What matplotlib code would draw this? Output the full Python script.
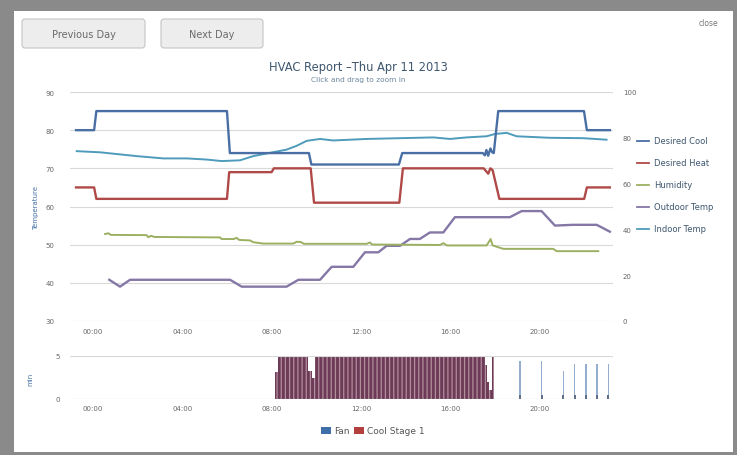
import matplotlib
matplotlib.use("Agg")
import matplotlib.pyplot as plt
from matplotlib.patches import FancyBboxPatch, Rectangle

# Series data (x = hour of day)
cool_hours = [-0.76, 0.05, 0.15, 6.0, 6.13, 9.67, 9.78, 13.7, 13.85, 17.46, 17.55, 17.62, 17.7,
              17.8, 17.88, 17.95, 18.15, 21.99, 22.12, 23.15]
cool_vals = [80, 80, 85, 85, 74, 74, 71, 71, 74, 74, 73.4, 74.8, 73.3, 75.2, 74.2, 74, 85, 85, 80, 80]

heat_hours = [-0.76, 0.05, 0.15, 6.0, 6.1, 8.0, 8.1, 9.75, 9.9, 13.72, 13.88, 17.5, 17.7, 17.8,
              17.9, 18.2, 22.0, 22.12, 23.15]
heat_vals = [65, 65, 62, 62, 69, 69, 70, 70, 61, 61, 70, 70, 68.6, 70, 69.5, 62, 62, 65, 65]

hum_hours = [0.54, 0.69, 0.8, 2.4, 2.48, 2.6, 2.75, 5.69, 5.76, 6.3, 6.43, 6.55, 7.03, 7.18, 7.63,
             8.97, 9.12, 9.3, 9.45, 12.26, 12.4, 12.5, 15.54, 15.69, 15.85, 17.63, 17.81, 17.9,
             18.38, 20.61, 20.77, 22.63]
hum_vals = [38.0, 38.3, 37.6, 37.5, 36.6, 37.2, 36.7, 36.5, 35.8, 35.8, 36.3, 35.4, 35.2, 34.4, 33.8,
            33.8, 34.6, 34.5, 33.7, 33.7, 34.3, 33.4, 33.2, 34.0, 33.0, 33.0, 35.8, 33.0,
            31.5, 31.5, 30.5, 30.5]

out_hours = [0.73, 1.21, 1.66, 6.14, 6.66, 8.67, 9.2, 10.17, 10.69, 11.66, 12.18, 12.78, 13.15, 13.75,
             14.2, 14.64, 15.09, 15.69, 16.21, 18.67, 19.2, 20.09, 20.69, 21.5, 22.56, 23.15]
out_vals = [40.8, 39.0, 40.8, 40.8, 39.0, 39.0, 40.8, 40.8, 44.2, 44.2, 48.0, 48.0, 49.7, 49.7,
            51.5, 51.5, 53.2, 53.2, 57.2, 57.2, 58.8, 58.8, 55.0, 55.2, 55.2, 53.4]

in_hours = [-0.73, 0.31, 1.96, 3.15, 4.2, 5.09, 5.76, 6.58, 7.18, 7.78, 8.67, 9.12, 9.57, 10.17,
            10.76, 12.26, 13.75, 15.24, 15.99, 16.73, 17.63, 18.0, 18.53, 18.97, 20.47, 21.96, 23.0]
in_vals = [74.5, 74.2, 73.2, 72.6, 72.6, 72.3, 71.9, 72.1, 73.2, 73.9, 74.9, 75.9, 77.2, 77.7,
           77.3, 77.7, 77.9, 78.1, 77.7, 78.1, 78.4, 79.0, 79.3, 78.4, 78.0, 77.9, 77.5]

# runtime (minutes) blocks: start hour, end hour, value
run_start = [8.15, 8.3, 9.64, 9.8, 9.94, 17.55, 17.65, 17.75, 17.87]
run_end = [8.3, 9.64, 9.8, 9.94, 17.55, 17.65, 17.75, 17.87, 17.96]
run_vals = [3.1, 5, 3.3, 2.5, 5, 4.0, 2.0, 1.0, 5]

# short fan-only cycles in the evening
fan_hours = [19.12, 20.09, 21.06, 21.58, 22.08, 22.58, 23.08]
fan_vals = [4.45, 4.45, 3.3, 4.07, 4.07, 4.07, 4.07]

tick_hours = [0, 4, 8, 12, 16, 20]
tick_labels = ["00:00", "04:00", "08:00", "12:00", "16:00", "20:00"]

C_COOL = "#4a6fa5"
C_HEAT = "#b04a48"
C_HUM = "#9cb062"
C_OUT = "#8577a6"
C_IN = "#4e9bbb"
TXT = "#666666"

W, H = 737, 456


def px_axes(fig, x0, y0, x1, y1):
    """add axes from pixel box (top-left origin)"""
    return fig.add_axes([x0 / W, 1 - y1 / H, (x1 - x0) / W, (y1 - y0) / H])


fig = plt.figure(figsize=(W / 100, H / 100), dpi=100)
fig.patch.set_facecolor("#8a8a8a")

# page chrome drawn in pixel coords
bg = fig.add_axes([0, 0, 1, 1])
bg.set_xlim(0, W)
bg.set_ylim(H, 0)
bg.axis("off")
bg.add_patch(Rectangle((14, 12), 719, 441, facecolor="white", edgecolor="none"))
for x0, x1, label in [(22, 145, "Previous Day"), (161, 263, "Next Day")]:
    bg.add_patch(FancyBboxPatch((x0, 20), x1 - x0, 29, boxstyle="round,pad=0,rounding_size=3",
                                facecolor="#ededed", edgecolor="#c4c4c4", lw=0.8))
    bg.text((x0 + x1) / 2, 35, label, ha="center", va="center", fontsize=7, color="#6a6a6a")
bg.text(718, 24, "close", ha="right", va="center", fontsize=5.5, color="#777777")
bg.text(358, 68, "HVAC Report \u2013Thu Apr 11 2013", ha="center", va="center", fontsize=8.3,
        color="#3E576F")
bg.text(358, 80, "Click and drag to zoom in", ha="center", va="center", fontsize=5.3, color="#6D869F")
bg.text(36, 208, "Temperature", rotation=90, ha="center", va="center", fontsize=5, color="#4572A7")
bg.text(30, 379, "min", rotation=90, ha="center", va="center", fontsize=5, color="#4572A7")

# right-hand legend
legend_items = [("Desired Cool", C_COOL), ("Desired Heat", C_HEAT), ("Humidity", C_HUM),
                ("Outdoor Temp", C_OUT), ("Indoor Temp", C_IN)]
for i, (name, col) in enumerate(legend_items):
    y = 142 + i * 21.9
    bg.plot([637, 649], [y, y], color=col, lw=1.3)
    bg.text(654, y, name, ha="left", va="center", fontsize=6, color="#3E576F")

# bottom legend
bg.add_patch(Rectangle((321, 428), 10, 7, facecolor="#3f6fa8", edgecolor="none"))
bg.text(334, 432, "Fan", ha="left", va="center", fontsize=6.5, color="#555555")
bg.add_patch(Rectangle((354, 428), 10, 7, facecolor="#b43f3f", edgecolor="none"))
bg.text(367, 432, "Cool Stage 1", ha="left", va="center", fontsize=6.5, color="#555555")

# main chart
ax = px_axes(fig, 70, 93, 613, 322)
ax.set_facecolor("none")
ax.set_xlim(-1.03, 23.29)
ax.set_ylim(30, 90)
ax.set_yticks(range(30, 91, 10))
ax.grid(axis="y", color="#d9d9d9", lw=0.8)
ax.set_xticks(tick_hours)
ax.set_xticklabels(tick_labels)
ax.tick_params(length=0, labelsize=5, labelcolor=TXT)
ax.tick_params(axis="y", pad=11)
ax.tick_params(axis="x", pad=5)
for s in ax.spines.values():
    s.set_visible(False)

ax2 = ax.twinx()
ax2.set_ylim(0, 100)
ax2.set_yticks(range(0, 101, 20))
ax2.tick_params(length=0, labelsize=5, labelcolor=TXT, pad=7)
for s in ax2.spines.values():
    s.set_visible(False)

ax.plot(in_hours, in_vals, color=C_IN, lw=1.4)
ax.plot(out_hours, out_vals, color=C_OUT, lw=1.7)
ax2.plot(hum_hours, hum_vals, color=C_HUM, lw=1.4)
ax.plot(heat_hours, heat_vals, color=C_HEAT, lw=1.7)
ax.plot(cool_hours, cool_vals, color=C_COOL, lw=1.7)

# runtime chart
plt.rcParams["hatch.linewidth"] = 0.9
bx = px_axes(fig, 70, 357, 613, 400)
bx.set_facecolor("none")
bx.set_xlim(-1.03, 23.29)
bx.set_ylim(0, 5)
bx.set_yticks([0, 5])
bx.grid(axis="y", color="#d9d9d9", lw=0.8)
bx.set_xticks(tick_hours)
bx.set_xticklabels(tick_labels)
bx.tick_params(length=0, labelsize=5, labelcolor=TXT)
bx.tick_params(axis="y", pad=7)
bx.tick_params(axis="x", pad=4)
for s in bx.spines.values():
    s.set_visible(False)
bx.axhline(0, color="#d0d0d0", lw=0.8, zorder=0.5)

widths = [e - s for s, e in zip(run_start, run_end)]
bx.bar(run_start, run_vals, width=widths, align="edge", color="#6d3b57", edgecolor="#b28d9c",
       hatch="||||", lw=0)
bx.bar(fan_hours, fan_vals, width=0.06, color="#93aecf", lw=0)
bx.bar(fan_hours, [0.45] * len(fan_hours), width=0.09, color="#5d6f88", lw=0)

fig.savefig("out.png", dpi=100)
